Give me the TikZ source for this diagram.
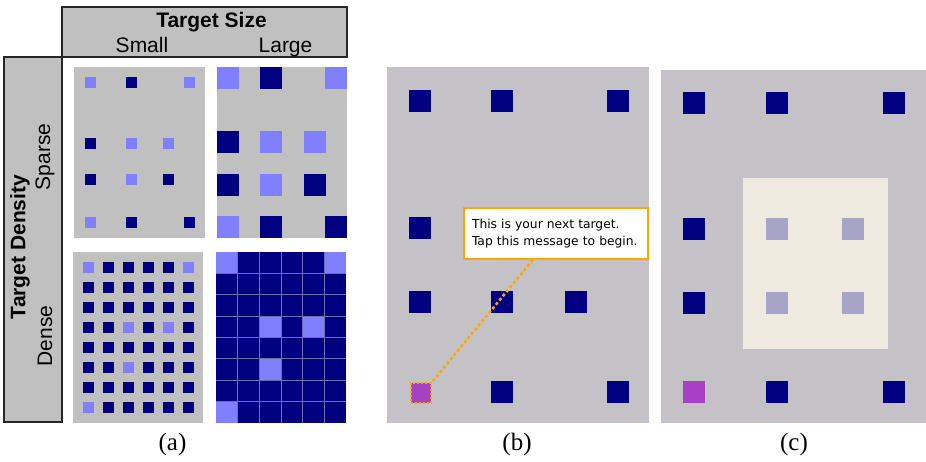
\documentclass[tikz,border=0pt]{standalone}
\usepackage{fontspec}
\setmainfont{Liberation Serif}
\newfontfamily\arialf{Liberation Sans}
\newfontfamily\tahomaf{DejaVu Sans}
\usetikzlibrary{calc}
\definecolor{navy}{RGB}{0,0,128}
\definecolor{lblue}{RGB}{128,128,255}
\definecolor{agrey}{RGB}{192,192,192}
\definecolor{pgrey}{RGB}{196,194,198}
\definecolor{cream}{RGB}{238,234,224}
\definecolor{lpurple}{RGB}{168,164,200}
\definecolor{tpurple}{RGB}{166,64,196}
\definecolor{orng}{RGB}{255,165,0}
\definecolor{gridc}{RGB}{110,110,175}
\newcommand\tsq[4]{\fill[#1] (#2,#3) rectangle ++(#4,#4);}
\begin{document}
\begin{tikzpicture}[x=1pt,y=-1pt,
  hdr/.style={draw=black!85, line width=1.5pt, fill=agrey},
  lbl/.style={font=\arialf\fontsize{21}{25}\selectfont, inner sep=0pt},
  lblb/.style={font=\arialf\bfseries\fontsize{21}{25}\selectfont, inner sep=0pt},
  captxt/.style={font=\fontsize{25}{30}\selectfont, inner sep=0pt},
  callout/.style={draw=orng, line width=2pt, fill=white, text width=168pt,
    inner xsep=8pt, minimum height=51pt, align=left,
    font=\tahomaf\fontsize{12.3}{17}\selectfont},
  target/.style={fill=tpurple, draw=orng, dash pattern=on 2pt off 2pt,
    line width=2pt, minimum size=20pt, inner sep=0pt},
  link/.style={orng, line width=2.5pt, dash pattern=on 3pt off 2.5pt}]
\useasboundingbox (0,0) rectangle (926,461);

% ---------- panel (a): headers ----------
\draw[hdr] (62,7) rectangle (347,57);
\draw[hdr] (4,57) rectangle (62,422);
\node[lblb, anchor=base] (tsize) at (211.5,27) {Target Size};
\node[lbl, anchor=base] (small) at (142,52) {Small};
\node[lbl, anchor=base] (large) at (285.5,52) {Large};
\node[lblb, rotate=90] (tdens) at (20,247) {Target Density};
\node[lbl, rotate=90] (sparse) at (45,157) {Sparse};
\node[lbl, rotate=90] (dense) at (45,336) {Dense};

% sparse small
\fill[agrey] (74,67) rectangle (205,238);
\foreach \x/\y/\col in {85/77/lblue,126/77/navy,184/77/lblue,
  85/138/navy,126/138/lblue,163/138/lblue,
  85/174/navy,126/174/lblue,163/174/navy,
  85/217/lblue,126/217/navy,184/217/navy}
  {\tsq{\col}{\x}{\y}{11}}

% sparse large
\fill[agrey] (217,67) rectangle (347,238);
\foreach \x/\y/\col in {217/67/lblue,260/67/navy,325/67/lblue,
  217/131/navy,260/131/lblue,304/131/lblue,
  217/174/navy,260/174/lblue,304/174/navy,
  217/216/lblue,260/216/navy,325/216/navy}
  {\tsq{\col}{\x}{\y}{22}}

% dense small
\fill[agrey] (73,252) rectangle (203,423);
\foreach \r in {0,...,7}
  \foreach \c in {0,...,5}
    {\fill[navy] ({83+20*\c},{262+20*\r}) rectangle ++(11,11);}
\foreach \r/\c in {1/1,1/6,4/3,4/5,6/3,8/1}
  {\fill[lblue] ({83+20*(\c-1)},{262+20*(\r-1)}) rectangle ++(11,11);}

% dense large
\fill[navy] (216,252) rectangle (346,423);
\foreach \r/\c in {1/1,1/6,4/3,4/5,6/3,8/1}
  {\fill[lblue] ({216+(\c-1)*130/6},{252+(\r-1)*171/8}) rectangle ++({130/6},{171/8});}
\foreach \i in {1,...,5}
  {\draw[gridc, line width=0.8pt] ({216+\i*130/6},252) -- ++(0,171);}
\foreach \j in {1,...,7}
  {\draw[gridc, line width=0.8pt] (216,{252+\j*171/8}) -- ++(130,0);}

\node[captxt] (capa) at (172.5,444) {(a)};

% ---------- panel (b) ----------
\fill[pgrey] (387,67) rectangle (649,423);
\foreach \x/\y in {409/90,491/90,607/90,409/217,409/291,491/291,565/291,491/381,607/381}
  {\tsq{navy}{\x}{\y}{22}}
\node[target, anchor=north west] (tgt) at (410,382) {};
\node[callout, anchor=north west] (msg) at (463,207)
  {This is your next target.\\Tap this message to begin.};
\draw[link] ($(msg.south west)!0.375!(msg.south east)$) -- (tgt.north east);
\node[captxt] (capb) at (517,444) {(b)};

% ---------- panel (c) ----------
\fill[pgrey] (661,70) rectangle (926,423);
\fill[cream] (743,178) rectangle (888,349);
\foreach \x/\y in {683/92,766/92,883/92,683/218,683/292,766/381,883/381}
  {\tsq{navy}{\x}{\y}{22}}
\foreach \x/\y in {766/218,842/218,766/292,842/292}
  {\tsq{lpurple}{\x}{\y}{22}}
\tsq{tpurple}{683}{381}{22}
\node[captxt] (capc) at (794,444) {(c)};
\end{tikzpicture}
\end{document}
